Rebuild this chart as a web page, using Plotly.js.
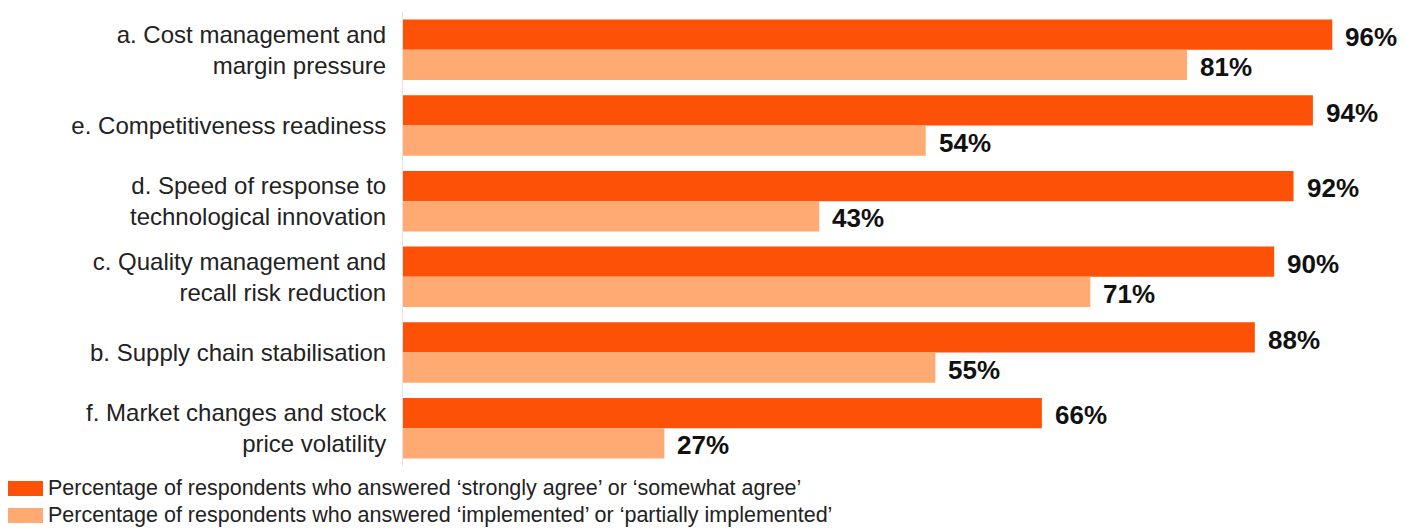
<!DOCTYPE html>
<html>
<head>
<meta charset="utf-8">
<script src="https://cdn.plot.ly/plotly-3.0.1.min.js"></script>
<style>html,body{margin:0;padding:0;background:#fff;}#chart{width:1407px;height:528px;}</style>
</head>
<body>
<div id="chart"></div>
<script>
const categories = [
  "a. Cost management and<br>margin pressure",
  "e. Competitiveness readiness",
  "d. Speed of response to<br>technological innovation",
  "c. Quality management and<br>recall risk reduction",
  "b. Supply chain stabilisation",
  "f. Market changes and stock<br>price volatility"
];
const agreeValues = [96, 94, 92, 90, 88, 66];
const implementedValues = [81, 54, 43, 71, 55, 27];
const seriesNames = [
  "Percentage of respondents who answered \u2018strongly agree\u2019 or \u2018somewhat agree\u2019",
  "Percentage of respondents who answered \u2018implemented\u2019 or \u2018partially implemented\u2019"
];
const colors = ["#FD5108", "#FFAA72"];
const FONT = "'Liberation Sans', Arial, Helvetica, sans-serif";

const traces = [
  {type: "bar", orientation: "h", y: categories, x: agreeValues, name: seriesNames[0],
   marker: {color: colors[0]}, hoverinfo: "x+y"},
  {type: "bar", orientation: "h", y: categories, x: implementedValues, name: seriesNames[1],
   marker: {color: colors[1]}, hoverinfo: "x+y"}
];

const annotations = [];
[agreeValues, implementedValues].forEach((vals, s) => {
  vals.forEach((v, i) => {
    annotations.push({
      x: v, y: categories[i], xref: "x", yref: "y",
      text: "<b>" + v + "%</b>", showarrow: false,
      xanchor: "left", yanchor: "middle",
      xshift: 11, yshift: s === 0 ? 13 : -17,
      font: {family: FONT, size: 26, color: "#111"}
    });
  });
});
// custom legend
const shapes = [];
seriesNames.forEach((n, s) => {
  shapes.push({type: "rect", xref: "paper", yref: "paper",
    x0: (8 - 403) / 968, x1: (43 - 403) / 968,
    y0: (466 - (481 + s * 27)) / 454, y1: (466 - (496 + s * 27)) / 454,
    fillcolor: colors[s], line: {width: 0}});
  annotations.push({xref: "paper", yref: "paper",
    x: (46 - 403) / 968, y: (466 - (488 + s * 27)) / 454,
    xanchor: "left", yanchor: "middle", showarrow: false, text: n,
    font: {family: FONT, size: 21.5, color: "#222"}});
});

const layout = {
  width: 1407, height: 528,
  margin: {l: 403, r: 36, t: 12, b: 62},
  paper_bgcolor: "#fff", plot_bgcolor: "#fff",
  barmode: "group", bargap: 0.2, bargroupgap: 0,
  showlegend: false,
  xaxis: {range: [0, 100], visible: false, fixedrange: true},
  yaxis: {autorange: "reversed", showline: true, linecolor: "#E3E3E3", linewidth: 1,
          showgrid: false, zeroline: false, ticks: "", ticklabelstandoff: 11,
          tickfont: {family: FONT, size: 24, color: "#222"}, fixedrange: true},
  annotations: annotations,
  shapes: shapes
};
Plotly.newPlot("chart", traces, layout, {displayModeBar: false, staticPlot: true});
</script>
</body>
</html>
